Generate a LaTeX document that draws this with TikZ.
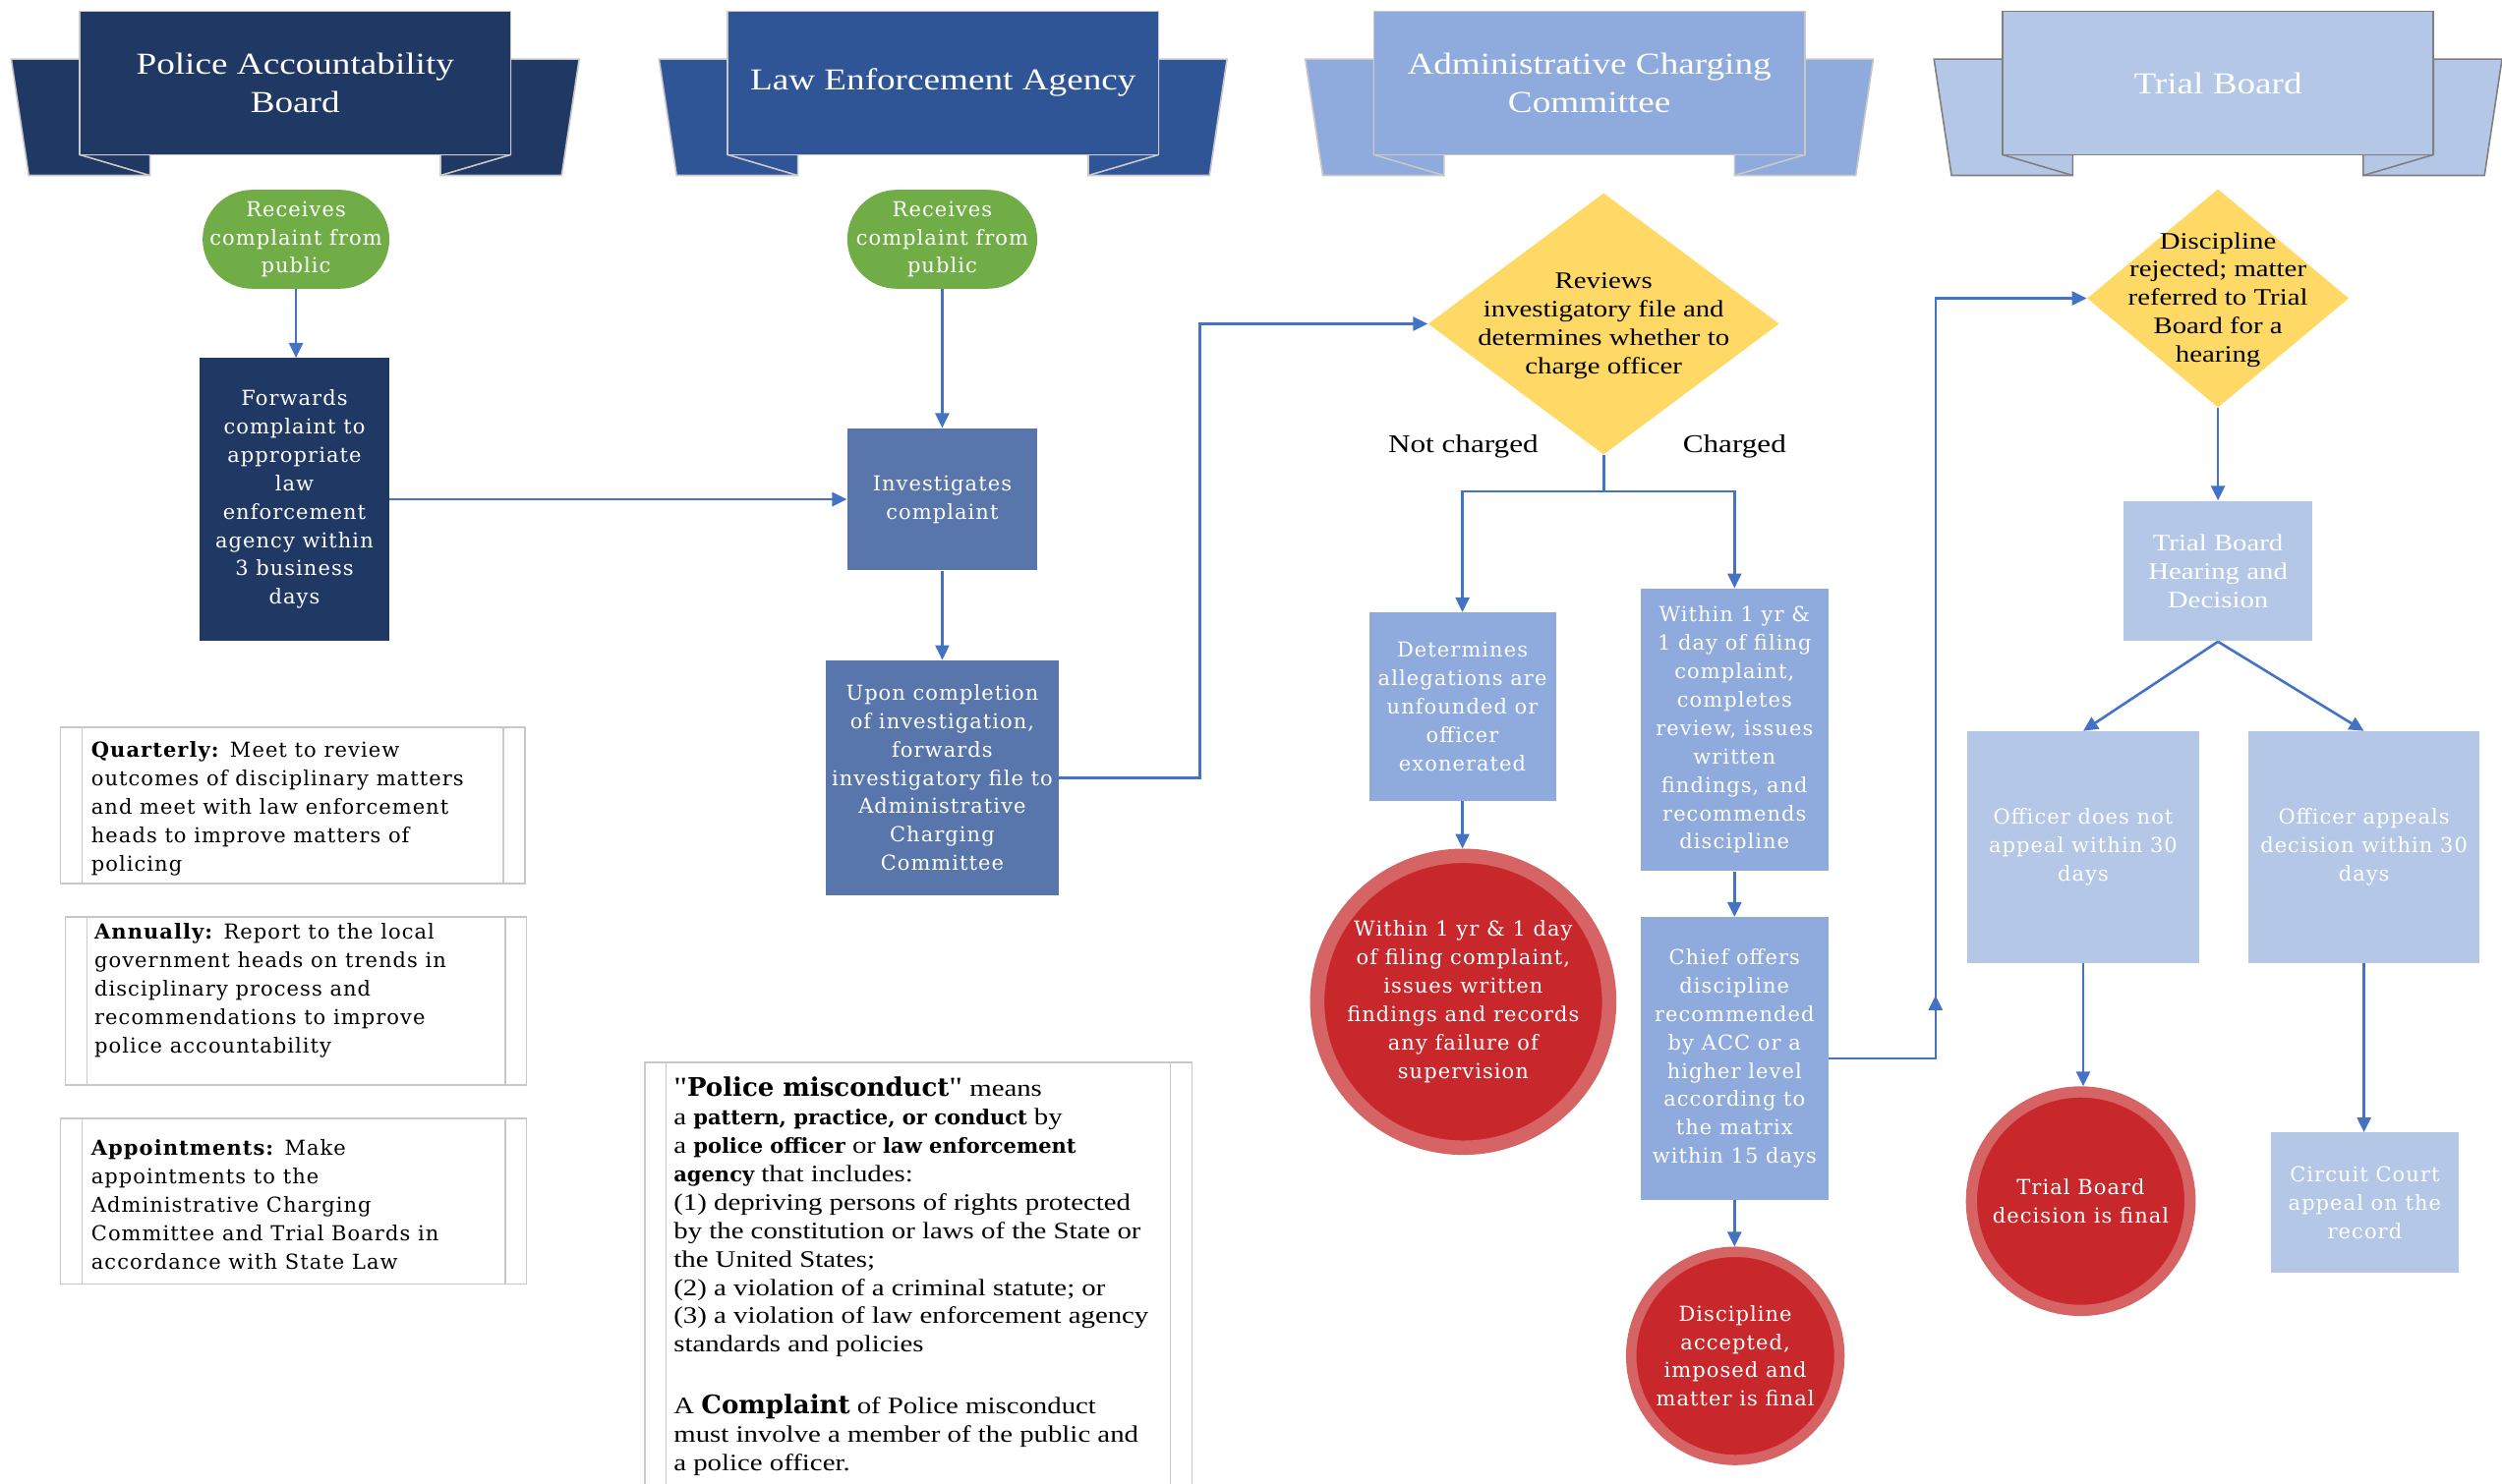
\documentclass[tikz,border=0pt]{standalone}
\usepackage{fontspec}
\setmainfont{Liberation Serif}
\newfontfamily\tms[FakeStretch=1.2]{Liberation Serif}
\newfontfamily\bkm[LetterSpace=5]{DejaVu Serif}
\newfontfamily\dvs{DejaVu Serif}
\usetikzlibrary{arrows.meta,shapes.geometric,calc}
\newlength\pu
\setlength\pu{0.8116pt}
\definecolor{navy}{HTML}{203864}
\definecolor{leab}{HTML}{2F5597}
\definecolor{leabox}{HTML}{5876AC}
\definecolor{accb}{HTML}{8FAADC}
\definecolor{tbb}{HTML}{B4C7E7}
\definecolor{gold}{HTML}{FFD966}
\definecolor{grn}{HTML}{70AD47}
\definecolor{redin}{HTML}{C8272B}
\definecolor{redring}{HTML}{D76464}
\definecolor{arrowblue}{HTML}{4472C4}
\definecolor{lgray}{HTML}{C8C8C8}
\definecolor{dgray}{HTML}{808080}
\definecolor{notegray}{HTML}{C8C8C8}

\newcommand\bb[1]{{\dvs\bfseries\fontsize{10.5}{14.45}\selectfont #1}}
\newcommand\bbig[1]{{\dvs\bfseries\fontsize{13}{14.45}\selectfont #1}}
\newcommand\bigq{{\tms\fontsize{14}{14.45}\selectfont "}}

\tikzset{
 sz/.style 2 args={minimum width={#1*\pu}, minimum height={#2*\pu}},
 bx/.style={rectangle, inner sep=0pt, align=center, text=white, font=\bkm\fontsize{10.5}{14.45}\selectfont},
 bxt/.style={bx, font=\tms\fontsize{12}{14.45}\selectfont},
 dtext/.style={inner sep=0pt, align=center, text=black, font=\tms\fontsize{12}{14.45}\selectfont},
 lbl/.style={inner sep=0pt, text=black, font=\tms\fontsize{13}{15}\selectfont},
 dia/.style={diamond, fill=gold, inner sep=0pt},
 endc/.style={circle, fill=redin, draw=redring, inner sep=0pt, align=center, text=white, font=\bkm\fontsize{10.5}{14.45}\selectfont},
 banner/.style={rectangle, inner sep=0pt, sz={270}{90}, align=center, text=white, font=\tms\fontsize{15.5}{19.5}\selectfont, line width=0.8pt},
 wing/.style={line width=0.8pt, line join=miter},
 note/.style={rectangle, draw=notegray, fill=white, line width=0.8pt, inner sep=0pt},
 noteln/.style={draw=notegray, line width=0.8pt},
 ntext/.style={inner sep=0pt, align=left, text=black, font=\bkm\fontsize{10.5}{14.45}\selectfont},
 mtext/.style={inner sep=0pt, align=left, text=black, font=\tms\fontsize{12}{14.45}\selectfont},
 arr/.style={draw=arrowblue, line width=1.3pt, -{Triangle[length=7.5pt,width=7pt]}},
 ln/.style={draw=arrowblue, line width=1.3pt},
}

\newcommand\mkbanner[5]{%
\begin{scope}[shift={(#1,0)}]
 \filldraw[wing, fill=#3, draw=#4] (-178,37) -- (-135,37) -- (-135,97) -- (-91,97) -- (-91,110) -- (-167,110) -- cycle;
 \filldraw[wing, fill=#3, draw=#4] (178,37) -- (135,37) -- (135,97) -- (91,97) -- (91,110) -- (167,110) -- cycle;
 \node[banner, fill=#3, draw=#4] (#2) at (0,52) {#5};
 \draw[wing, draw=#4] (-135,97) -- (-91,110);
 \draw[wing, draw=#4] (135,97) -- (91,110);
\end{scope}}

\begin{document}
\begin{tikzpicture}[x=0.8116pt, y=-0.8116pt]
\useasboundingbox (0,0) rectangle (1568,930);

% banners
\mkbanner{185}{h1}{navy}{lgray}{Police Accountability\\Board}
\mkbanner{591}{h2}{leab}{lgray}{Law Enforcement Agency}
\mkbanner{996}{h3}{accb}{lgray}{Administrative Charging\\Committee}
\mkbanner{1390}{h4}{tbb}{dgray}{Trial Board}

% column 1
\node[bx, fill=grn, sz={117}{62}, rounded corners={31*\pu}] (g1) at (185.5,150) {Receives\\complaint from\\public};
\node[bx, fill=navy, sz={119}{177}] (fw) at (184.5,313) {Forwards\\complaint to\\appropriate\\law\\enforcement\\agency within\\3 business\\days};

% column 2
\node[bx, fill=grn, sz={119}{62}, rounded corners={31*\pu}] (g2) at (590.5,150) {Receives\\complaint from\\public};
\node[bx, fill=leabox, sz={119}{89}] (inv) at (590.5,313) {Investigates\\complaint};
\node[bx, fill=leabox, sz={146}{147}] (upon) at (590.5,487.5) {Upon completion\\of investigation,\\forwards\\investigatory file to\\Administrative\\Charging\\Committee};

% column 3
\node[dia, sz={220}{164}] (d1) at (1005,203) {};
\node[dtext] (d1t) at (1005,204.5) {Reviews\\investigatory file and\\determines whether to\\charge officer};
\node[lbl] (nc) at (917,280) {Not charged};
\node[lbl] (ch) at (1087,280) {Charged};
\coordinate (sp) at (1005,308);
\node[bx, fill=accb, sz={117}{118}] (det) at (916.5,443) {Determines\\allegations are\\unfounded or\\officer\\exonerated};
\node[bx, fill=accb, sz={118}{177}] (within) at (1087,457.5) {Within 1 yr \&\\1 day of filing\\complaint,\\completes\\review, issues\\written\\findings, and\\recommends\\discipline};
\node[bx, fill=accb, sz={118}{177}] (chief) at (1087,663.5) {Chief offers\\discipline\\recommended\\by ACC or a\\higher level\\according to\\the matrix\\within 15 days};
\node[endc, minimum size={183*\pu}, line width={9*\pu}] (c1) at (917,628) {Within 1 yr \& 1 day\\of filing complaint,\\issues written\\findings and records\\any failure of\\supervision};
\node[endc, minimum size={130.5*\pu}, line width={6.5*\pu}] (c2) at (1087.5,850) {Discipline\\accepted,\\imposed and\\matter is final};

% column 4
\node[dia, sz={164}{137}] (d2) at (1390,187) {};
\node[dtext] (d2t) at (1390,188) {Discipline\\rejected; matter\\referred to Trial\\Board for a\\hearing};
\node[bxt, fill=tbb, sz={118}{88}] (tbh) at (1390,358) {Trial Board\\Hearing and\\Decision};
\node[bx, fill=tbb, sz={145}{145}] (noap) at (1305.5,531) {Officer does not\\appeal within 30\\days};
\node[bx, fill=tbb, sz={145}{145}] (ap) at (1481.5,531) {Officer appeals\\decision within 30\\days};
\node[endc, minimum size={137*\pu}, line width={7*\pu}] (c3) at (1304,753) {Trial Board\\decision is final};
\node[bx, fill=tbb, sz={118}{88}] (circ) at (1482,754) {Circuit Court\\appeal on the\\record};

% connectors
\draw[arr] (g1.south) -- (g1.south |- fw.north);
\draw[arr] (fw.east) -- (inv.west);
\draw[arr] (g2.south) -- (inv.north);
\draw[arr] (inv.south) -- (inv.south |- upon.north);
\coordinate (j1) at (752,487);
\draw[arr] (upon.east) -- (upon.east -| j1) |- (d1.west);
\draw[ln] (d1.south) -- (sp);
\draw[arr] (sp) -| (det.north);
\draw[arr] (sp) -| (within.north);
\draw[arr] (det.south) -- (det.south |- c1.north);
\draw[arr] (within.south) -- (chief.north);
\draw[arr] (chief.south) -- (chief.south |- c2.north);
\coordinate (j2) at (1213,663.5);
\draw[arr] (chief.east) -- (chief.east -| j2) |- (d2.west);
\coordinate (j2b) at (1213,624);
\draw[arr] (j2) -- (j2b);
\draw[arr] (d2.south) -- (tbh.north);
\draw[arr] (tbh.south) -- (noap.north);
\draw[arr] (tbh.south) -- (ap.north);
\draw[arr] (noap.south) -- (noap.south |- c3.north);
\draw[arr] (ap.south) -- (ap.south |- circ.north);

% notes
\node[note, sz={291}{98}] (q) at (183.5,505) {};
\node[note, sz={289}{105}] (an) at (185.5,627.5) {};
\node[note, sz={292}{104}] (apm) at (184,753) {};
\node[note, sz={343}{280}] (pm) at (575.5,806) {};
\foreach \n in {q,an,apm,pm}{
 \draw[noteln] ($(\n.north west)+(14,0)$) -- ($(\n.south west)+(14,0)$);
 \draw[noteln] ($(\n.north east)+(-14,0)$) -- ($(\n.south east)+(-14,0)$);
}
\node[ntext, anchor=west] (qt) at (57,507) {\textbf{Quarterly:} Meet to review\\outcomes of disciplinary matters\\and meet with law enforcement\\heads to improve matters of\\policing};
\node[ntext, anchor=west] (ant) at (59,621) {\textbf{Annually:} Report to the local\\government heads on trends in\\disciplinary process and\\recommendations to improve\\police accountability};
\node[ntext, anchor=west] (apt) at (57,755) {\textbf{Appointments:} Make\\appointments to the\\Administrative Charging\\Committee and Trial Boards in\\accordance with State Law};
\node[mtext, anchor=north west] (pmt) at (422,675) {\bigq\bbig{Police misconduct}\bigq{} means\\
a \bb{pattern, practice, or conduct} by\\
a \bb{police officer} or \bb{law enforcement}\\
\bb{agency} that includes:\\
(1) depriving persons of rights protected\\
by the constitution or laws of the State or\\
the United States;\\
(2) a violation of a criminal statute; or\\
(3) a violation of law enforcement agency\\
standards and policies\\[17pt]
A \bbig{Complaint} of Police misconduct\\
must involve a member of the public and\\
a police officer.};
\end{tikzpicture}
\end{document}
